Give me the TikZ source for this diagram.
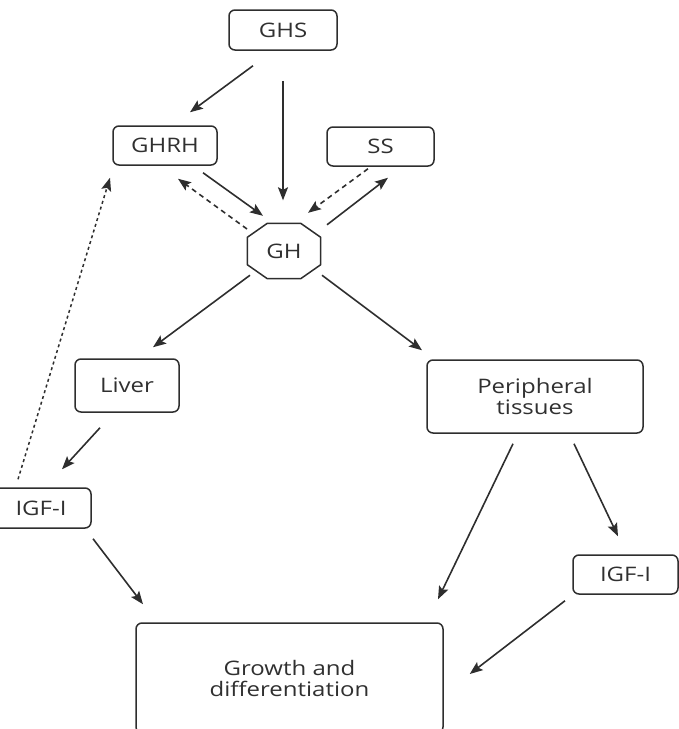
\documentclass[tikz,border=0pt]{standalone}
\usepackage{fontspec}
\setmainfont{Open Sans}[FakeStretch=1.2]
\usetikzlibrary{arrows.meta}
\definecolor{inkc}{HTML}{2E2E2E}
\definecolor{textc}{HTML}{303030}
\begin{document}
\begin{tikzpicture}[x=1pt,y=-1pt,
  every node/.style={text=textc,font=\fontsize{20}{21}\selectfont,inner sep=0pt,align=center},
  rbox/.style={draw=inkc,line width=1.5pt,rounded corners=6pt},
  octo/.style={draw=inkc,line width=1.5pt,line join=miter},
  arr/.style={draw=inkc,line width=1.6pt,-{Stealth[length=13pt,width=10pt,inset=2.5pt]}},
  dasharr/.style={arr,dash pattern=on 5pt off 4pt},
  dotarr/.style={arr,line width=1.5pt,dash pattern=on 3pt off 3pt}]
\useasboundingbox (0,0) rectangle (679,729);

% boxes
\node[rbox,minimum width=108pt,minimum height=40pt] (ghs) at (283,30) {GHS};
\node[rbox,minimum width=104pt,minimum height=39pt] (ghrh) at (165,145.5) {GHRH};
\node[rbox,minimum width=107pt,minimum height=39pt] (ss) at (380.5,146.5) {SS};
\node[minimum width=73pt,minimum height=55pt] (gh) at (284,251) {GH};
\draw[octo] ([shift={(20,0)}]gh.north west) -- ([shift={(-20,0)}]gh.north east)
  -- ([shift={(0,14)}]gh.north east) -- ([shift={(0,-14)}]gh.south east)
  -- ([shift={(-20,0)}]gh.south east) -- ([shift={(20,0)}]gh.south west)
  -- ([shift={(0,-14)}]gh.south west) -- ([shift={(0,14)}]gh.north west) -- cycle;
\node[rbox,minimum width=104pt,minimum height=53pt] (liver) at (127,385.5) {Liver};
\node[rbox,minimum width=100pt,minimum height=40pt] (igfL) at (41,508) {IGF-I};
\node[rbox,minimum width=216pt,minimum height=73pt] (periph) at (535,396.5) {Peripheral\\tissues};
\node[rbox,minimum width=105pt,minimum height=39pt] (igfR) at (625.5,574.5) {IGF-I};
\node[rbox,minimum width=307pt,minimum height=110pt] (growth) at (289.5,678) {Growth and\\differentiation};

% connectors
\draw[arr] ([shift={(-30,15)}]ghs.south) -- ([shift={(25,-13)}]ghrh.north);
\draw[arr] ([shift={(0,30)}]ghs.south) -- ([shift={(-1,-23)}]gh.north);
\draw[arr] ([shift={(38,7)}]ghrh.south) -- ([shift={(-21,-7.5)}]gh.north);
\draw[dasharr] ([shift={(-37,-22)}]gh.center) -- ([shift={(13,13)}]ghrh.south);
\draw[dasharr] ([shift={(-12.5,2)}]ss.south) -- ([shift={(24,-10.5)}]gh.north);
\draw[arr] ([shift={(43,1.5)}]gh.north) -- ([shift={(7.5,11)}]ss.south);
\draw[arr] ([shift={(-34,-3.5)}]gh.south) -- ([shift={(26,-11)}]liver.north);
\draw[arr] ([shift={(38,-3.5)}]gh.south) -- ([shift={(-113,-9)}]periph.north);
\draw[arr] ([shift={(-27,15)}]liver.south) -- ([shift={(21,-18)}]igfL.north);
\draw[dotarr] ([shift={(-23,-8)}]igfL.north) -- ([shift={(-55,12)}]ghrh.south);
\draw[arr] ([shift={(52,10)}]igfL.south) -- ([shift={(-146.5,-18)}]growth.north);
\draw[arr] ([shift={(-22,10)}]periph.south) -- ([shift={(148.5,-23)}]growth.north);
\draw[arr] ([shift={(39,10)}]periph.south) -- ([shift={(-7.5,-18)}]igfR.north);
\draw[arr] ([shift={(-60.5,6)}]igfR.south) -- ([shift={(26,-4)}]growth.east);
\end{tikzpicture}
\end{document}
